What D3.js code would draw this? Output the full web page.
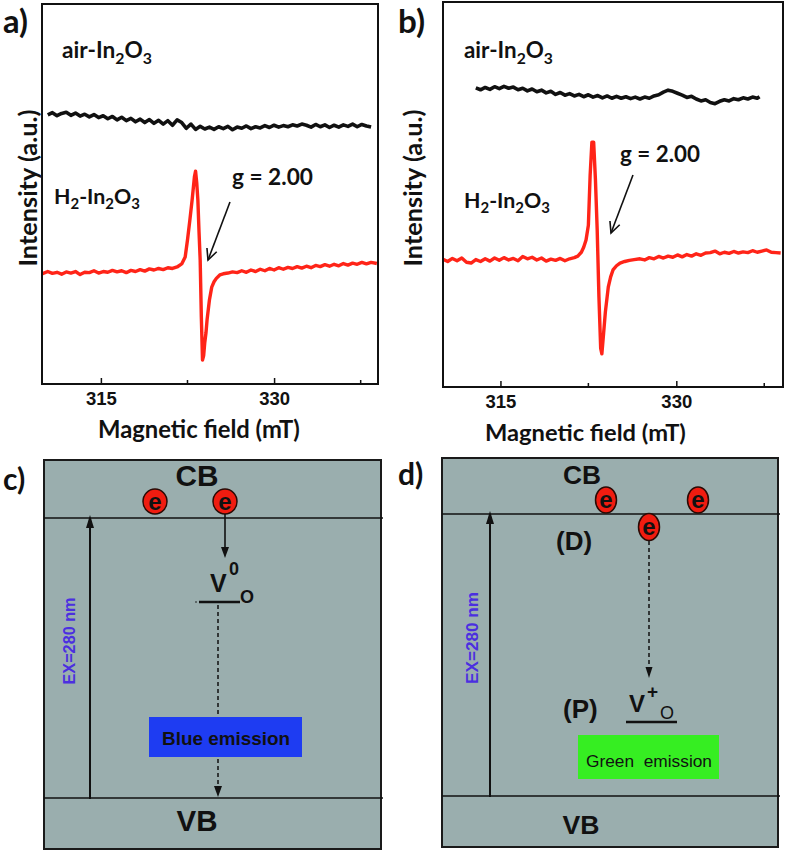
<!DOCTYPE html>
<html><head><meta charset="utf-8">
<script src="https://cdn.jsdelivr.net/npm/d3@7"></script>
<style>body{margin:0;background:#fff}svg{display:block}</style>
</head><body><svg id="fig" width="786" height="853"></svg>
<script>
// ---------- DATA ----------
const fieldTicks = [315, 330];
const fieldMinorTicks = [322.5, 337.5];
const xTitle = "Magnetic field (mT)";
const yTitle = "Intensity (a.u.)";

// panel a) air-In2O3  [field mT, intensity a.u.]
const airA = [[310.4,70.8],[310.8,71.4],[311.2,70.6],[311.6,71.2],[312.0,71.5],[312.4,70.7],[312.8,71.3],[313.2,70.5],[313.6,71.0],[314.0,70.3],[314.4,70.9],[314.8,70.1],[315.2,70.6],[315.6,69.8],[316.0,70.4],[316.4,69.5],[316.8,70.2],[317.2,69.3],[317.6,69.9],[318.0,69.0],[318.4,69.7],[318.8,68.8],[319.2,69.6],[319.6,68.6],[320.0,69.4],[320.4,68.4],[320.8,69.3],[321.2,68.1],[321.6,69.5],[322.0,68.8],[322.4,67.3],[322.8,68.4],[323.2,67.0],[323.6,67.8],[324.0,67.1],[324.4,67.6],[324.8,67.0],[325.2,67.7],[325.6,67.2],[326.0,67.8],[326.4,66.9],[326.8,67.6],[327.2,67.3],[327.6,67.9],[328.0,67.2],[328.4,67.7],[328.8,67.4],[329.2,68.0],[329.6,67.5],[330.0,68.1],[330.4,67.6],[330.8,68.0],[331.2,67.7],[331.6,68.2],[332.0,67.9],[332.4,68.4],[332.8,68.1],[333.2,67.6],[333.6,68.3],[334.0,67.7],[334.4,68.2],[334.8,67.5],[335.2,68.1],[335.6,67.6],[336.0,68.2],[336.4,67.8],[336.8,68.4],[337.2,67.7],[337.6,68.3],[338.0,67.9],[338.4,67.6]];
// panel a) H2-In2O3
const h2A = [[309.9,29.0],[310.4,29.6],[310.8,29.1],[311.2,29.4],[311.6,28.9],[312.0,29.5],[312.4,29.2],[312.8,29.6],[313.2,28.8],[313.6,29.4],[314.0,29.3],[314.4,29.8],[314.8,29.2],[315.2,29.6],[315.6,29.4],[316.0,29.9],[316.4,29.5],[316.8,29.8],[317.2,29.3],[317.6,29.9],[318.0,29.6],[318.4,30.1],[318.8,29.7],[319.2,30.3],[319.6,30.0],[320.0,30.4],[320.4,30.1],[320.8,30.6],[321.2,30.4],[321.6,30.8],[322.0,31.6],[322.3,33.4],[322.5,37.9],[322.7,43.0],[322.9,48.4],[323.1,54.5],[323.2,56.0],[323.3,53.0],[323.4,48.4],[323.5,40.0],[323.6,32.6],[323.7,17.6],[323.8,6.3],[323.9,7.5],[324.0,11.0],[324.1,13.4],[324.2,17.0],[324.4,22.1],[324.6,25.5],[324.8,26.9],[325.0,27.8],[325.3,28.7],[325.6,29.0],[326.0,29.2],[326.4,29.5],[326.8,29.3],[327.2,29.8],[327.6,29.4],[328.0,30.0],[328.4,29.6],[328.8,30.2],[329.2,29.8],[329.6,30.4],[330.0,30.0],[330.4,30.6],[330.8,30.2],[331.2,30.7],[331.6,30.4],[332.0,30.9],[332.4,30.5],[332.8,31.0],[333.2,30.6],[333.6,31.2],[334.0,30.9],[334.4,31.4],[334.8,31.0],[335.2,31.5],[335.6,31.1],[336.0,31.7],[336.4,31.3],[336.8,31.8],[337.2,31.5],[337.6,32.0],[338.0,31.6],[338.4,32.0],[338.9,31.7]];
// panel b) air-In2O3
const airB = [[312.9,77.7],[313.3,77.2],[313.7,77.8],[314.1,77.3],[314.5,78.0],[314.9,77.5],[315.3,78.1],[315.7,77.6],[316.1,77.9],[316.5,77.2],[316.9,77.6],[317.3,76.9],[317.7,77.4],[318.1,76.7],[318.5,77.1],[318.9,76.4],[319.3,76.8],[319.7,76.0],[320.1,76.5],[320.5,75.8],[320.9,76.2],[321.3,75.6],[321.7,76.0],[322.1,75.4],[322.5,75.9],[322.9,75.3],[323.3,75.7],[323.7,75.1],[324.1,75.6],[324.5,75.0],[324.9,75.5],[325.3,75.0],[325.7,75.4],[326.1,74.9],[326.5,75.3],[326.9,74.8],[327.3,75.3],[327.7,75.0],[328.1,75.6],[328.5,75.9],[328.9,76.6],[329.3,77.1],[329.7,76.8],[330.1,76.3],[330.5,75.8],[330.9,75.2],[331.3,75.5],[331.7,74.8],[332.1,74.3],[332.5,74.6],[332.9,73.9],[333.3,73.6],[333.7,74.2],[334.1,74.6],[334.5,74.3],[334.9,74.9],[335.3,74.6],[335.7,75.1],[336.1,74.8],[336.5,75.3],[336.9,75.0],[337.1,75.4]];
// panel b) H2-In2O3
const h2B = [[310.1,33.2],[310.5,32.6],[310.9,33.4],[311.3,32.8],[311.7,33.5],[312.1,32.4],[312.5,32.2],[312.9,33.1],[313.3,32.6],[313.7,33.3],[314.1,32.7],[314.5,33.5],[314.9,32.9],[315.3,33.6],[315.7,33.0],[316.1,33.4],[316.5,32.8],[316.9,33.9],[317.3,33.3],[317.7,33.7],[318.1,33.0],[318.5,33.5],[318.9,32.7],[319.3,33.2],[319.7,32.9],[320.1,33.4],[320.5,32.8],[320.9,33.3],[321.3,33.6],[321.6,34.0],[321.9,35.0],[322.1,36.3],[322.3,38.2],[322.5,42.0],[322.65,55.0],[322.8,63.6],[322.95,63.6],[323.1,54.0],[323.25,41.0],[323.4,23.4],[323.55,10.0],[323.65,8.6],[323.8,14.0],[323.95,19.5],[324.2,26.0],[324.4,28.6],[324.6,30.4],[324.9,31.5],[325.2,32.2],[325.6,32.6],[326.0,32.9],[326.4,33.1],[326.9,33.3],[327.3,33.0],[327.7,33.6],[328.1,33.3],[328.5,33.9],[328.9,33.5],[329.3,34.0],[329.7,33.7],[330.1,34.3],[330.5,33.8],[330.9,34.4],[331.3,34.0],[331.7,34.6],[332.1,34.2],[332.5,34.8],[332.9,34.9],[333.3,35.3],[333.7,34.6],[334.1,35.0],[334.5,34.7],[334.9,35.2],[335.3,34.8],[335.7,35.1],[336.1,34.9],[336.5,35.4],[336.9,35.0],[337.3,35.3],[337.7,35.6],[338.1,35.0],[338.5,34.9],[338.9,34.8]];

const panelLabels = ["a)", "b)", "c)", "d)"];
const gLabel = "g = 2.00";
const bandLabels = ["CB", "VB"];
const exLabel = "EX=280 nm";
const emissionLabels = ["Blue emission", "Green  emission"];

// ---------- HELPERS ----------
const svg = d3.select("#fig");
const ANNO = "Lato, Open Sans, sans-serif";
const ARIAL = "Liberation Sans, Arial, sans-serif";

function fit(t, w){
  const len = t.node().getComputedTextLength();
  const fs = parseFloat(t.attr("font-size"));
  const k = w/len;
  t.attr("font-size", fs*k);
  t.selectAll("tspan").each(function(){
    const s=d3.select(this); const f=parseFloat(s.attr("font-size")); if(f) s.attr("font-size", f*k);
    const dy=s.attr("dy"); if(dy) s.attr("dy", parseFloat(dy)*k);
  });
  return t;
}
function chem(g, x, y, parts, w){
  const t = g.append("text").attr("x",x).attr("y",y).attr("font-family",ANNO)
    .attr("font-weight",700).attr("font-size",20).attr("fill","#111");
  let sub=false;
  parts.forEach(([s,isSub])=>{
    const ts=t.append("tspan").text(s);
    if(isSub && !sub){ts.attr("dy",5).attr("font-size",14);}
    else if(isSub){ts.attr("font-size",14);}
    else if(!isSub && sub){ts.attr("dy",-5).attr("font-size",20);}
    else ts.attr("font-size",20);
    sub=isSub;
  });
  return fit(t,w);
}
function openArrow(g, x1,y1,x2,y2){
  g.append("line").attr("x1",x1).attr("y1",y1).attr("x2",x2).attr("y2",y2)
    .attr("stroke","#111").attr("stroke-width",1.6);
  const a=Math.atan2(y2-y1,x2-x1), L=12, s=0.45;
  const p=[[x2-L*Math.cos(a-s),y2-L*Math.sin(a-s)],[x2,y2],[x2-L*Math.cos(a+s),y2-L*Math.sin(a+s)]];
  g.append("path").attr("d",d3.line()(p)).attr("fill","none").attr("stroke","#111").attr("stroke-width",1.6);
}
function solidArrow(g,x,y1,y2,opts={}){
  const dir = y2>y1?1:-1, L=opts.L||11, hw=opts.hw||4;
  g.append("line").attr("x1",x).attr("x2",x).attr("y1",y1).attr("y2",y2-dir*L*0.6)
    .attr("stroke","#111").attr("stroke-width",opts.sw||1.8).attr("stroke-dasharray",opts.dash||null);
  g.append("path").attr("d",d3.line()([[x-hw,y2-dir*L],[x,y2],[x+hw,y2-dir*L]])+"Z").attr("fill","#111");
}

// ---------- SPECTRA ----------
function spectrum(P){
  const g=svg.append("g");
  const x=d3.scaleLinear().domain(P.dom).range([P.x0,P.x1]);
  const y=d3.scaleLinear().domain([0,100]).range([P.y1,P.y0]);
  const line=d3.line().x(d=>x(d[0])).y(d=>y(d[1]));
  g.append("path").datum(P.air).attr("d",line).attr("fill","none").attr("stroke","#111")
    .attr("stroke-width",3.6).attr("stroke-linejoin","round");
  g.append("path").datum(P.h2).attr("d",line).attr("fill","none").attr("stroke","#ff2418")
    .attr("stroke-width",3.4).attr("stroke-linejoin","round");
  const ax=g.append("g").attr("transform",`translate(0,${P.y1})`)
    .call(d3.axisBottom(x).tickValues(fieldTicks).tickSize(-6).tickPadding(8).tickFormat(d3.format("d")));
  ax.select(".domain").remove();
  ax.selectAll("line").attr("stroke","#111").attr("stroke-width",1.5);
  ax.selectAll("text").attr("font-family",ARIAL).attr("font-weight",700).attr("font-size",18.5).attr("fill","#111");
  g.selectAll(".minor").data(fieldMinorTicks).enter().append("line")
    .attr("x1",d=>x(d)).attr("x2",d=>x(d)).attr("y1",P.y1).attr("y2",P.y1-4)
    .attr("stroke","#111").attr("stroke-width",1.5);
  g.append("rect").attr("x",P.x0).attr("y",P.y0).attr("width",P.x1-P.x0).attr("height",P.y1-P.y0)
    .attr("fill","none").attr("stroke","#111").attr("stroke-width",2);
  const xt=g.append("text").attr("x",P.xt[0]).attr("y",P.xt[1]).attr("font-family",ANNO)
    .attr("font-weight",700).attr("font-size",20).attr("fill","#111").text(xTitle);
  fit(xt,P.xt[2]);
  const yt=g.append("text").attr("transform",`translate(${P.yt[0]},${P.yt[1]}) rotate(-90)`)
    .attr("text-anchor","middle").attr("font-family",ANNO).attr("font-weight",700)
    .attr("font-size",20).attr("fill","#111").text(yTitle);
  fit(yt,P.yt[2]);
  chem(g,P.airLab[0],P.airLab[1],[["air-In",0],["2",1],["O",0],["3",1]],P.airLab[2]);
  chem(g,P.h2Lab[0],P.h2Lab[1],[["H",0],["2",1],["-In",0],["2",1],["O",0],["3",1]],P.h2Lab[2]);
  const gt=g.append("text").attr("x",P.gLab[0]).attr("y",P.gLab[1]).attr("font-family",ANNO)
    .attr("font-weight",700).attr("font-size",22).attr("fill","#111").text(gLabel);
  fit(gt,P.gLab[2]);
  openArrow(g,...P.arrow);
  const pl=g.append("text").attr("x",P.lab[0]).attr("y",P.lab[1]).attr("font-family",ANNO)
    .attr("font-weight",700).attr("font-size",30).attr("fill","#111").text(P.label);
  fit(pl,P.lab[2]);
}
spectrum({x0:42,x1:378,y0:4,y1:384,dom:[309.9,339.0],air:airA,h2:h2A,
  xt:[98,438,202], yt:[37,188,157], airLab:[62,58,90], h2Lab:[54,204,86], gLab:[232,185,81],
  arrow:[230,202,208,260], lab:[3,33,25], label:panelLabels[0]});
spectrum({x0:443,x1:783,y0:2,y1:387,dom:[310.1,339.1],air:airB,h2:h2B,
  xt:[485,441,201], yt:[422,188,157], airLab:[464,58,89], h2Lab:[464,208,86], gLab:[620,162,80],
  arrow:[633,175,611,233], lab:[398,33,27], label:panelLabels[1]});

// ---------- BAND DIAGRAMS ----------
function electron(g,cx,cy,rx,ry){
  g.append("ellipse").attr("cx",cx).attr("cy",cy).attr("rx",rx).attr("ry",ry)
    .attr("fill","#f01c10").attr("stroke","#2a0a05").attr("stroke-width",1.5);
  g.append("text").attr("x",cx).attr("y",cy+8).attr("text-anchor","middle")
    .attr("font-family",ARIAL).attr("font-weight",700).attr("font-size",24).attr("fill","#111").text("e");
}
function bandBox(D){
  const g=svg.append("g");
  g.append("rect").attr("x",D.x0).attr("y",D.y0).attr("width",D.x1-D.x0).attr("height",D.y1-D.y0)
    .attr("fill","#9aaeae").attr("stroke","#1a1a1a").attr("stroke-width",2);
  [D.cb,D.vb].forEach(yy=>g.append("line").attr("x1",D.x0).attr("x2",D.x1+2).attr("y1",yy).attr("y2",yy)
    .attr("stroke","#111").attr("stroke-width",1.5));
  const c1=g.append("text").attr("x",D.cbT[0]).attr("y",D.cbT[1]).attr("text-anchor","middle").attr("font-family",ARIAL)
    .attr("font-weight",700).attr("font-size",29).attr("fill","#111").text(bandLabels[0]);
  fit(c1,D.cbT[2]);
  const v1=g.append("text").attr("x",D.vbT[0]).attr("y",D.vbT[1]).attr("text-anchor","middle").attr("font-family",ARIAL)
    .attr("font-weight",700).attr("font-size",29).attr("fill","#111").text(bandLabels[1]);
  fit(v1,D.vbT[2]);
  solidArrow(g,D.exX,D.vb+1,D.cb-3,{L:13,hw:4,sw:2});
  const et=g.append("text").attr("transform",`translate(${D.exT[0]},${D.exT[1]}) rotate(-90)`)
    .attr("text-anchor","middle").attr("font-family",ARIAL).attr("font-weight",700)
    .attr("font-size",16).attr("fill","#4b2fe0").text(exLabel);
  fit(et,D.exT[2]);
  g.append("text").attr("x",D.lab[0]).attr("y",D.lab[1]).attr("font-family",ANNO)
    .attr("font-weight",700).attr("font-size",30).attr("fill","#111").text(D.label);
  return g;
}
// c)
{
  const g=bandBox({x0:44,y0:460,x1:381,y1:849,cb:518,vb:798,cbT:[197,486,43],vbT:[197,831,41],
    exX:90,exT:[75,641,87],lab:[3,490],label:panelLabels[2]});
  solidArrow(g,218,605,797,{dash:"4,3",L:11,hw:4,sw:1.5});
  g.append("rect").attr("x",149).attr("y",717).attr("width",153).attr("height",40).attr("fill","#1e3cf2");
  const bt=g.append("text").attr("x",226).attr("y",745).attr("text-anchor","middle").attr("font-family",ARIAL)
    .attr("font-weight",700).attr("font-size",18).attr("fill","#111").text(emissionLabels[0]);
  fit(bt,128);
  electron(g,155,501.5,12,12.5); electron(g,225,501.5,12,12.5);
  solidArrow(g,225,514,558,{L:11,hw:4,sw:1.6});
  g.append("line").attr("x1",199).attr("x2",240).attr("y1",602).attr("y2",602).attr("stroke","#111").attr("stroke-width",2.5);
  g.append("circle").attr("cx",196).attr("cy",602).attr("r",0.8).attr("fill","#111");
  g.append("text").attr("x",210).attr("y",592).attr("font-family",ARIAL).attr("font-weight",700).attr("font-size",25).attr("fill","#111").text("V");
  g.append("text").attr("x",229).attr("y",575).attr("font-family",ARIAL).attr("font-weight",700).attr("font-size",18).attr("fill","#111").text("0");
  g.append("text").attr("x",240).attr("y",603).attr("font-family",ARIAL).attr("font-weight",700).attr("font-size",18).attr("fill","#111").text("O");
}
// d)
{
  const g=bandBox({x0:442,y0:458,x1:778,y1:847,cb:514,vb:796,cbT:[582,484,38],vbT:[581,834,37],
    exX:490,exT:[478,638,92],lab:[398,485],label:panelLabels[3]});
  electron(g,606,500,10.5,13); electron(g,698,500,10.5,13); electron(g,649,527,10.5,13.5);
  solidArrow(g,649,541,678,{dash:"4,3",L:11,hw:3.5,sw:1.5});
  g.append("text").attr("x",556).attr("y",550).attr("font-family",ARIAL).attr("font-weight",700).attr("font-size",26).attr("fill","#111").text("(D)");
  g.append("text").attr("x",563).attr("y",718).attr("font-family",ARIAL).attr("font-weight",700).attr("font-size",26).attr("fill","#111").text("(P)");
  g.append("text").attr("x",629).attr("y",712).attr("font-family",ARIAL).attr("font-weight",700).attr("font-size",24).attr("fill","#111").text("V");
  g.append("text").attr("x",647).attr("y",698).attr("font-family",ARIAL).attr("font-weight",700).attr("font-size",19).attr("fill","#111").text("+");
  g.append("text").attr("x",660).attr("y",719).attr("font-family",ARIAL).attr("font-weight",400).attr("font-size",18).attr("fill","#111").text("O");
  g.append("line").attr("x1",626).attr("x2",677).attr("y1",722).attr("y2",722).attr("stroke","#111").attr("stroke-width",2.5);
  g.append("rect").attr("x",578).attr("y",735).attr("width",141).attr("height",44).attr("fill","#36ee22");
  const gt=g.append("text").attr("x",649).attr("y",767).attr("text-anchor","middle").attr("font-family",ARIAL)
    .attr("font-size",17.5).attr("fill","#111").style("white-space","pre").text(emissionLabels[1]);
  fit(gt,126);
}
</script></body></html>
